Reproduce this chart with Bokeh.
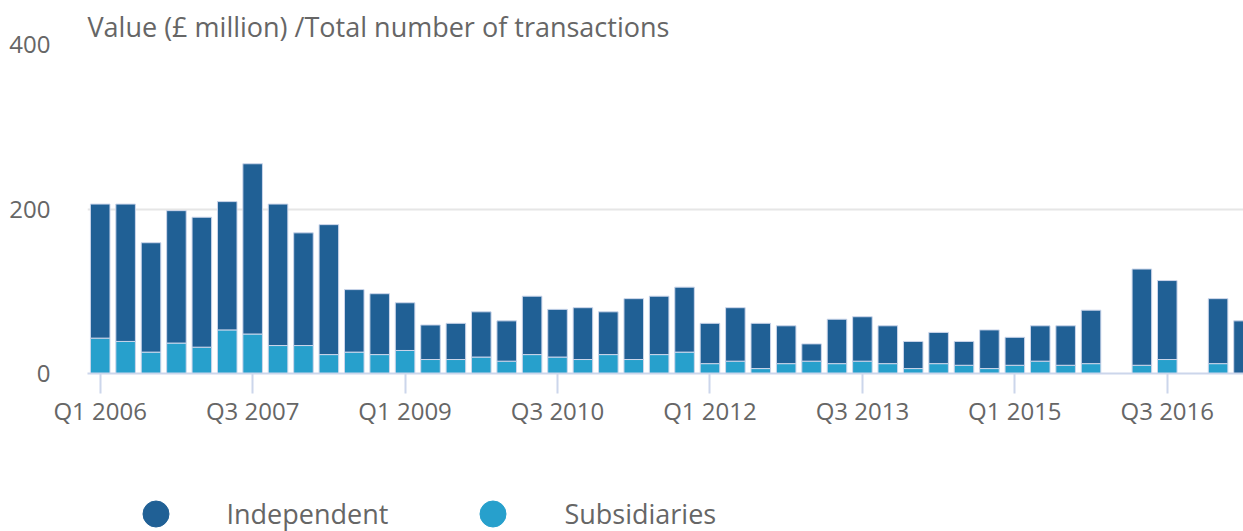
import numpy as np
from bokeh.plotting import figure
from bokeh.layouts import column
from bokeh.models import (ColumnDataSource, FixedTicker, Legend, LegendItem,
                          Title, Range1d)
from bokeh.embed import file_html
from bokeh.resources import INLINE

# ---- data -------------------------------------------------------------
quarters = [f"Q{q} {y}" for y in range(2006, 2018) for q in range(1, 5)][:46]

nan = float("nan")
independent = [163, 167, 133, 161, 158, 156, 207, 172, 137, 158,
               76, 74, 58, 42, 44, 55, 49, 71, 58, 63,
               52, 74, 71, 79, 49, 65, 55, 46, 21, 54,
               54, 46, 33, 38, 29, 47, 34, 43, 48, 65,
               nan, 117, 96, nan, 79, 64]
subsidiaries = [43, 39, 26, 37, 32, 53, 48, 34, 34, 23,
                26, 23, 28, 17, 17, 20, 15, 23, 20, 17,
                23, 17, 23, 26, 12, 15, 6, 12, 15, 12,
                15, 12, 6, 12, 10, 6, 10, 15, 10, 12,
                nan, 10, 17, nan, 12, 0]
series_names = ["Independent", "Subsidiaries"]
y_ticks = [0, 200, 400]
x_tick_every = 6
title_text = "Value (£ million) /Total number of transactions"

DARK = "#206095"
LIGHT = "#27a0cc"
TEXT = "#666666"
FONT = "Open Sans"

src = ColumnDataSource(dict(
    x=np.arange(len(quarters), dtype=float),
    sub=np.array(subsidiaries, dtype=float),
    ind=np.array(independent, dtype=float),
))

# ---- main chart --------------------------------------------------------
chart = figure(width=1243, height=440, output_backend="svg", toolbar_location=None,
               x_range=Range1d(-0.5, 45.0), y_range=Range1d(0, 400),
               min_border_left=87, min_border_right=0, min_border_top=44,
               min_border_bottom=67)
chart.outline_line_color = None
chart.background_fill_color = "white"
chart.border_fill_color = "white"

chart.vbar_stack(["sub", "ind"], x="x", width=0.77, source=src,
                 color=[LIGHT, DARK], line_color="#ccd6eb", line_width=1)

chart.title = Title(text=title_text, align="left", standoff=0, offset=0,
                    text_font=FONT, text_font_size="27px",
                    text_font_style="normal", text_color=TEXT)

chart.xgrid.grid_line_color = None
chart.ygrid.grid_line_color = "#e6e6e6"
chart.ygrid.grid_line_width = 2
chart.yaxis.ticker = FixedTicker(ticks=y_ticks)
chart.yaxis.axis_line_color = None
chart.yaxis.major_tick_line_color = None
chart.yaxis.minor_tick_line_color = None
chart.yaxis.major_label_standoff = 31
chart.yaxis.major_label_text_font = FONT
chart.yaxis.major_label_text_font_size = "24px"
chart.yaxis.major_label_text_color = TEXT

xt = list(range(0, len(quarters), x_tick_every))
chart.xaxis.ticker = FixedTicker(ticks=xt)
chart.xaxis.major_label_overrides = {i: quarters[i] for i in xt}
chart.xaxis.axis_line_color = "#ccd6eb"
chart.xaxis.axis_line_width = 2
chart.xaxis.major_tick_line_color = "#ccd6eb"
chart.xaxis.major_tick_line_width = 2
chart.xaxis.major_tick_out = 20
chart.xaxis.major_tick_in = 0
chart.xaxis.minor_tick_line_color = None
chart.xaxis.major_label_standoff = 0
chart.xaxis.major_label_text_font = FONT
chart.xaxis.major_label_text_font_size = "24px"
chart.xaxis.major_label_text_color = TEXT

# ---- legend strip ------------------------------------------------------
leg = figure(width=1243, height=91, output_backend="svg", toolbar_location=None,
             x_range=Range1d(0, 1), y_range=Range1d(0, 1),
             x_axis_type=None, y_axis_type=None,
             min_border_left=0, min_border_right=0, min_border_top=0,
             min_border_bottom=0)
leg.outline_line_color = None
leg.grid.visible = False
# off-screen points: only their legend glyphs are seen
r1 = leg.scatter(x=[-10], y=[-10], size=26, color=DARK, marker="circle")
r2 = leg.scatter(x=[-10], y=[-10], size=26, color=LIGHT, marker="circle")
lg = Legend(items=[LegendItem(label=series_names[0], renderers=[r1]),
                   LegendItem(label=series_names[1], renderers=[r2])],
            location=(35.5, -14.5), orientation="horizontal",
            glyph_width=65, glyph_height=65, label_standoff=39,
            padding=0, margin=0, spacing=72,
            border_line_color=None, background_fill_alpha=0,
            label_text_font=FONT, label_text_font_size="27px",
            label_text_color=TEXT)
leg.add_layout(lg)

p = column(chart, leg, spacing=0)

open("out.html", "w").write(file_html(p, INLINE))
